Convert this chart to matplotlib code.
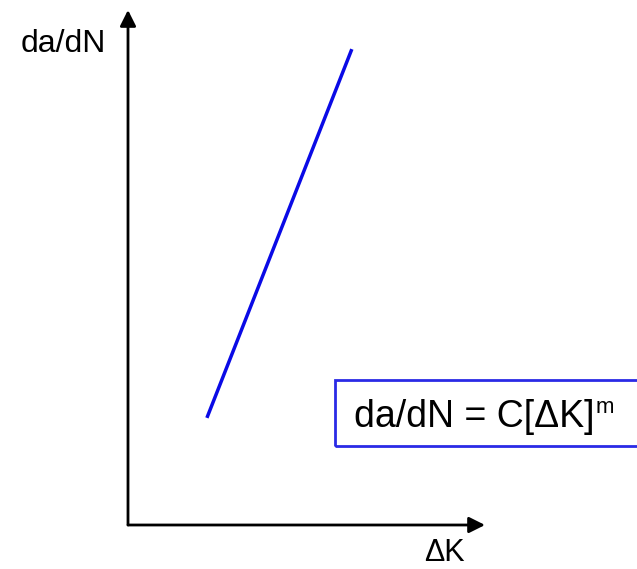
import matplotlib.pyplot as plt
from matplotlib.patches import Rectangle

plt.rcParams['font.family'] = ['Liberation Sans', 'DejaVu Sans']

# schematic Paris-law line (arbitrary units)
delta_k = [2.21, 6.27]
da_dn = [2.08, 9.24]
x_label = '\u0394K'
y_label = 'da/dN'
law_text = 'da/dN = C[\u0394K]'
law_power = 'm'

W, H = 637, 569
fig = plt.figure(figsize=(W / 100, H / 100), dpi=100)
ax = fig.add_axes([128 / W, (H - 525) / H, 357 / W, 515 / H])
ax.set_xlim(0, 10)
ax.set_ylim(0, 10)
ax.axis('off')

# axes with arrow heads
arrow = dict(arrowstyle='-|>', color='black', lw=2, mutation_scale=24,
             shrinkA=0, shrinkB=0)
ax.annotate('', xy=(1, 0), xytext=(0, 0), xycoords='axes fraction', arrowprops=arrow)
ax.annotate('', xy=(0, 1), xytext=(0, 0), xycoords='axes fraction', arrowprops=arrow)

ax.plot(delta_k, da_dn, color='#0a0ae6', lw=2.5, solid_capstyle='butt')

fig.text(63 / W, 1 - 52 / H, y_label, fontsize=23, ha='center', va='baseline')
fig.text(444 / W, 1 - 561 / H, x_label, fontsize=22, ha='center', va='baseline')

# equation box, runs off the right edge
fig.patches.append(Rectangle((335 / W, 1 - 446 / H), 330 / W, 66 / H,
                             transform=fig.transFigure, fill=False,
                             edgecolor='#2a2ae6', lw=2))
t = fig.text(354 / W, 1 - 427 / H, law_text, fontsize=27, ha='left', va='baseline')
ax.annotate(law_power, xy=(1, 0), xycoords=t, xytext=(1, 15.5),
            textcoords='offset points', fontsize=16, ha='left', va='baseline',
            annotation_clip=False)

fig.savefig('out.png', dpi=100)
